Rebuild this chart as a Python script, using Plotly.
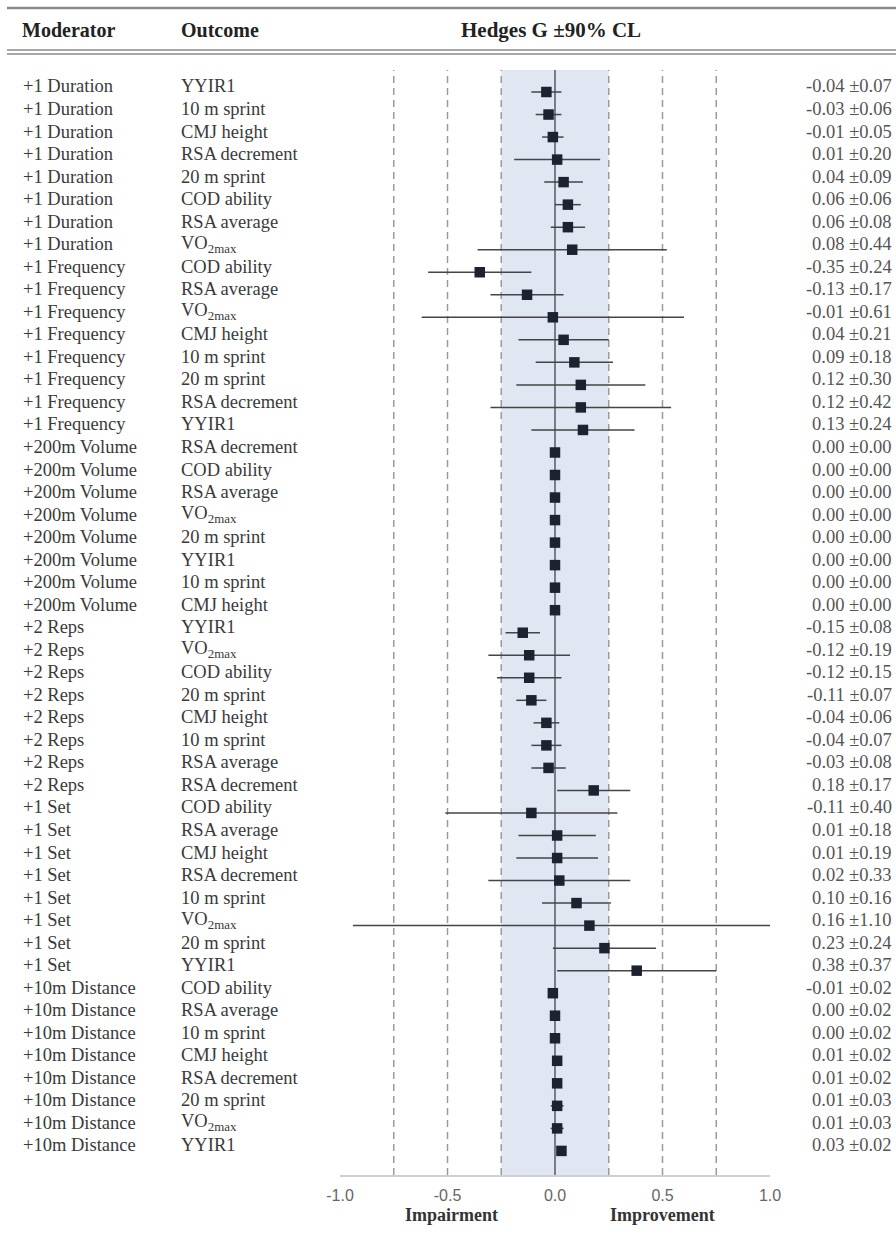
import plotly.graph_objects as go

# ---- data -------------------------------------------------------------
moderators = (
    ["+1 Duration"] * 8
    + ["+1 Frequency"] * 8
    + ["+200m Volume"] * 8
    + ["+2 Reps"] * 8
    + ["+1 Set"] * 8
    + ["+10m Distance"] * 8
)

outcomes = [
    # +1 Duration
    "YYIR1", "10 m sprint", "CMJ height", "RSA decrement",
    "20 m sprint", "COD ability", "RSA average", "VO<sub>2max</sub>",
    # +1 Frequency
    "COD ability", "RSA average", "VO<sub>2max</sub>", "CMJ height",
    "10 m sprint", "20 m sprint", "RSA decrement", "YYIR1",
    # +200m Volume
    "RSA decrement", "COD ability", "RSA average", "VO<sub>2max</sub>",
    "20 m sprint", "YYIR1", "10 m sprint", "CMJ height",
    # +2 Reps
    "YYIR1", "VO<sub>2max</sub>", "COD ability", "20 m sprint",
    "CMJ height", "10 m sprint", "RSA average", "RSA decrement",
    # +1 Set
    "COD ability", "RSA average", "CMJ height", "RSA decrement",
    "10 m sprint", "VO<sub>2max</sub>", "20 m sprint", "YYIR1",
    # +10m Distance
    "COD ability", "RSA average", "10 m sprint", "CMJ height",
    "RSA decrement", "20 m sprint", "VO<sub>2max</sub>", "YYIR1",
]

hedges_g = [
    -0.04, -0.03, -0.01, 0.01, 0.04, 0.06, 0.06, 0.08,
    -0.35, -0.13, -0.01, 0.04, 0.09, 0.12, 0.12, 0.13,
    0.00, 0.00, 0.00, 0.00, 0.00, 0.00, 0.00, 0.00,
    -0.15, -0.12, -0.12, -0.11, -0.04, -0.04, -0.03, 0.18,
    -0.11, 0.01, 0.01, 0.02, 0.10, 0.16, 0.23, 0.38,
    -0.01, 0.00, 0.00, 0.01, 0.01, 0.01, 0.01, 0.03,
]

cl90 = [
    0.07, 0.06, 0.05, 0.20, 0.09, 0.06, 0.08, 0.44,
    0.24, 0.17, 0.61, 0.21, 0.18, 0.30, 0.42, 0.24,
    0.00, 0.00, 0.00, 0.00, 0.00, 0.00, 0.00, 0.00,
    0.08, 0.19, 0.15, 0.07, 0.06, 0.07, 0.08, 0.17,
    0.40, 0.18, 0.19, 0.33, 0.16, 1.10, 0.24, 0.37,
    0.02, 0.02, 0.02, 0.02, 0.02, 0.03, 0.03, 0.02,
]

tick_vals = [-1.0, -0.5, 0.0, 0.5, 1.0]
tick_text = ["-1.0", "-0.5", "0.0", "0.5", "1.0"]
ref_lines = [-0.75, -0.5, -0.25, 0.25, 0.5, 0.75]
trivial_band = (-0.25, 0.25)

# ---- geometry (pixels) -----------------------------------------------
W, H = 896, 1234
plot_left, plot_right = 340, 770
plot_top, plot_bottom = 70, 1175
row0_px, row_step = 92, 22.53
text_lift = 5.5

rows = list(range(len(hedges_g)))

serif = "Liberation Serif"
sans = "Liberation Sans"


def px_x(p):
    return p / W


def px_y(p):
    return 1 - p / H


fig = go.Figure()

fig.add_trace(
    go.Scatter(
        x=hedges_g,
        y=rows,
        mode="markers",
        marker=dict(symbol="square", size=10.5, color="#1e2130", line=dict(width=0)),
        error_x=dict(type="data", array=cl90, width=0, thickness=1.5, color="#454545"),
        showlegend=False,
        hoverinfo="skip",
    )
)

annotations = []

# column headers
for text, x, anchor, size in [
    ("Moderator", 20, "left", 20),
    ("Outcome", 179, "left", 20),
    ("Hedges G ±90% CL", 551, "center", 21),
]:
    annotations.append(
        dict(
            text=f"<b>{text}</b>", x=px_x(x), y=px_y(30), xref="paper", yref="paper",
            xanchor=anchor, yanchor="middle", showarrow=False,
            font=dict(family=serif, size=size, color="#222222"),
        )
    )

# row labels and value text
for i, (mod, out, g, c) in enumerate(zip(moderators, outcomes, hedges_g, cl90)):
    annotations.append(
        dict(
            text=mod, x=px_x(21), y=i, xref="paper", yref="y",
            xanchor="left", yanchor="middle", yshift=text_lift, showarrow=False,
            font=dict(family=serif, size=18.5, color="#3a3a3a"),
        )
    )
    annotations.append(
        dict(
            text=out, x=px_x(179), y=i, xref="paper", yref="y",
            xanchor="left", yanchor="middle", yshift=text_lift, showarrow=False,
            font=dict(family=serif, size=18.5, color="#3a3a3a"),
        )
    )
    annotations.append(
        dict(
            text=f"{g:.2f} ±{c:.2f}", x=px_x(894), y=i, xref="paper", yref="y",
            xanchor="right", yanchor="middle", yshift=text_lift, showarrow=False,
            font=dict(family=serif, size=18.5, color="#555555"),
        )
    )

# direction labels under the axis
for text, x in [("Impairment", -0.48), ("Improvement", 0.5)]:
    annotations.append(
        dict(
            text=f"<b>{text}</b>", x=x, y=px_y(1215), xref="x", yref="paper",
            xanchor="center", yanchor="middle", showarrow=False,
            font=dict(family=serif, size=18, color="#333333"),
        )
    )

shapes = []
# trivial-effect band
shapes.append(
    dict(
        type="rect", xref="x", yref="y domain", x0=trivial_band[0], x1=trivial_band[1],
        y0=0, y1=1, fillcolor="#e1e7f2", line=dict(width=0), layer="below",
    )
)
# dashed threshold lines
for v in ref_lines:
    shapes.append(
        dict(
            type="line", xref="x", yref="y domain", x0=v, x1=v, y0=0, y1=1,
            line=dict(color="#9a9a9a", width=1.5, dash="7px,5px"), layer="below",
        )
    )
# zero line
shapes.append(
    dict(
        type="line", xref="x", yref="y domain", x0=0, x1=0, y0=0, y1=1,
        line=dict(color="#555a66", width=1.5), layer="below",
    )
)
# table rules
shapes.append(
    dict(type="line", xref="paper", yref="paper", x0=px_x(7), x1=1,
         y0=px_y(8), y1=px_y(8), line=dict(color="#8a8a8a", width=2.5))
)
for yy in (50, 54):
    shapes.append(
        dict(type="line", xref="paper", yref="paper", x0=px_x(7), x1=1,
             y0=px_y(yy), y1=px_y(yy), line=dict(color="#8a8a8a", width=1.5))
    )

fig.update_layout(
    template="none",
    width=W,
    height=H,
    autosize=False,
    margin=dict(l=0, r=0, t=0, b=0, pad=0, autoexpand=False),
    paper_bgcolor="white",
    plot_bgcolor="white",
    xaxis=dict(
        domain=[px_x(plot_left), px_x(plot_right)],
        range=[-1, 1],
        tickvals=tick_vals,
        ticktext=tick_text,
        tickfont=dict(family=sans, size=16, color="#666666"),
        ticklabelstandoff=5,
        showgrid=False,
        zeroline=False,
        showline=True,
        linecolor="#cfcfcf",
        linewidth=2,
        ticks="",
        automargin=False,
        fixedrange=True,
    ),
    yaxis=dict(
        domain=[px_y(plot_bottom), px_y(plot_top)],
        range=[(plot_bottom - row0_px) / row_step, (plot_top - row0_px) / row_step],
        visible=False,
        automargin=False,
        fixedrange=True,
    ),
    annotations=annotations,
    shapes=shapes,
)

fig.write_html("out.html")
